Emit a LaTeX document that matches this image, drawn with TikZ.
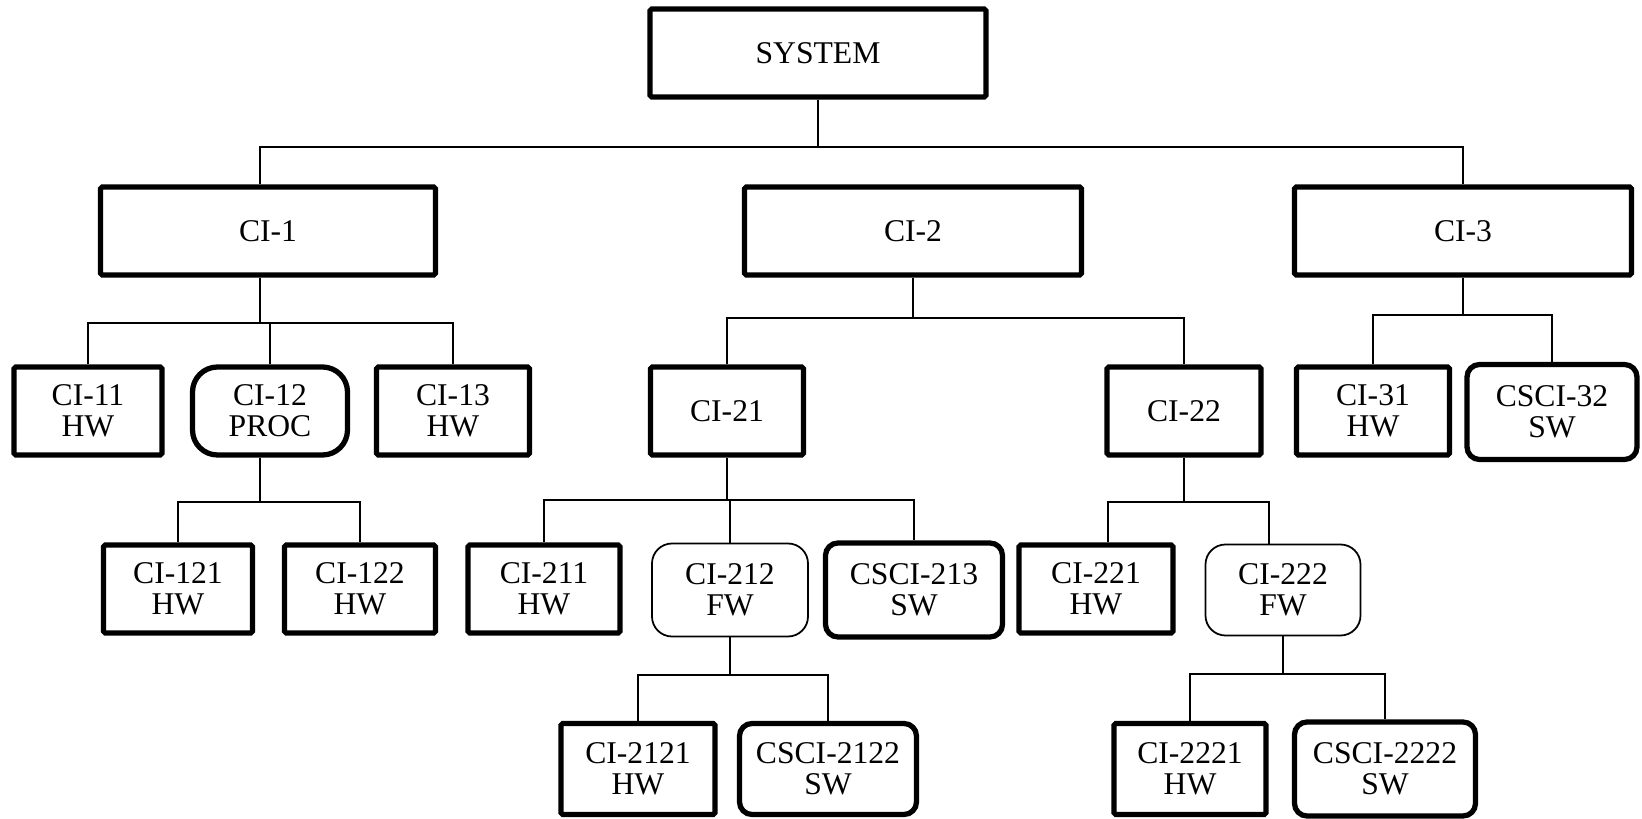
\documentclass[tikz,border=0pt]{standalone}
\usepackage{fontspec}
\setmainfont{Liberation Serif}
\tikzset{
  ci/.style={draw, line width=3pt, rounded corners=1pt, align=center, inner sep=0pt,
    minimum height=1.76cm, font=\fontsize{18}{17.5}\selectfont},
  procbox/.style={ci, rounded corners=0.5cm},
  fwbox/.style={ci, line width=1pt, rounded corners=0.4cm},
  swbox/.style={ci, rounded corners=0.25cm},
  link/.style={line width=1.1pt}
}
\begin{document}
\begin{tikzpicture}% ------ Arbre des CI -----------------
    \useasboundingbox (0,0) rectangle (32.84,-16.38);
    \node [ci, minimum width=6.72cm] (sys) at (16.36,-1.06) {SYSTEM};
    \node [ci, minimum width=6.70cm] (ci1) at (5.36,-4.62) {CI-1};
    \node [ci, minimum width=6.74cm] (ci2) at (18.26,-4.62) {CI-2};
    \node [ci, minimum width=6.74cm] (ci3) at (29.26,-4.62) {CI-3};
    % niveau 2
    \node [ci, minimum width=2.96cm] (ci11) at (1.76,-8.22) {CI-11\\HW};
    \node [procbox, minimum width=3.10cm] (ci12) at (5.40,-8.22) {CI-12\\PROC};
    \node [ci, minimum width=3.06cm] (ci13) at (9.06,-8.22) {CI-13\\HW};
    \node [ci, minimum width=3.06cm] (ci21) at (14.54,-8.22) {CI-21};
    \node [ci, minimum width=3.08cm] (ci22) at (23.68,-8.22) {CI-22};
    \node [ci, minimum width=3.06cm] (ci31) at (27.46,-8.22) {CI-31\\HW};
    \node [swbox, minimum width=3.40cm, minimum height=1.90cm] (csci32) at (31.04,-8.24) {CSCI-32\\SW};
    % niveau 3
    \node [ci, minimum width=2.98cm] (ci121) at (3.56,-11.78) {CI-121\\HW};
    \node [ci, minimum width=3.02cm] (ci122) at (7.20,-11.78) {CI-122\\HW};
    \node [ci, minimum width=3.04cm] (ci211) at (10.88,-11.78) {CI-211\\HW};
    \node [fwbox, minimum width=3.12cm, minimum height=1.86cm] (ci212) at (14.60,-11.80) {CI-212\\FW};
    \node [swbox, minimum width=3.54cm, minimum height=1.88cm] (csci213) at (18.28,-11.80) {CSCI-213\\SW};
    \node [ci, minimum width=3.08cm] (ci221) at (21.92,-11.78) {CI-221\\HW};
    \node [fwbox, minimum width=3.10cm, minimum height=1.82cm] (ci222) at (25.66,-11.80) {CI-222\\FW};
    % niveau 4
    \node [ci, minimum width=3.08cm, minimum height=1.82cm] (ci2121) at (12.76,-15.38) {CI-2121\\HW};
    \node [swbox, minimum width=3.54cm, minimum height=1.82cm] (csci2122) at (16.56,-15.38) {CSCI-2122\\SW};
    \node [ci, minimum width=3.04cm, minimum height=1.82cm] (ci2221) at (23.80,-15.38) {CI-2221\\HW};
    \node [swbox, minimum width=3.62cm, minimum height=1.88cm] (csci2222) at (27.70,-15.38) {CSCI-2222\\SW};
    % liaisons
    \draw [link] (sys.south) -- ++(0,-0.94) -| ([xshift=-0.16cm]ci1.north);
    \draw [link] (sys.south) -- ++(0,-0.94) -| (ci3.north);
    \foreach \c in {ci11,ci12,ci13} \draw [link] ([xshift=-0.16cm]ci1.south) -- ++(0,-0.90) -| (\c.north);
    \foreach \c in {ci21,ci22} \draw [link] (ci2.south) -- ++(0,-0.80) -| (\c.north);
    \foreach \c in {ci31,csci32} \draw [link] (ci3.south) -- ++(0,-0.74) -| (\c.north);
    \foreach \c in {ci121,ci122} \draw [link] ([xshift=-0.2cm]ci12.south) -- ++(0,-0.88) -| (\c.north);
    \foreach \c in {ci211,ci212,csci213} \draw [link] (ci21.south) -- ++(0,-0.84) -| (\c.north);
    \draw [link] (ci22.south) -- ++(0,-0.88) -| ([xshift=0.24cm]ci221.north);
    \draw [link] (ci22.south) -- ++(0,-0.88) -| ([xshift=-0.28cm]ci222.north);
    \foreach \c in {ci2121,csci2122} \draw [link] (ci212.south) -- ++(0,-0.76) -| (\c.north);
    \foreach \c in {ci2221,csci2222} \draw [link] (ci222.south) -- ++(0,-0.76) -| (\c.north);
\end{tikzpicture}
\end{document}
